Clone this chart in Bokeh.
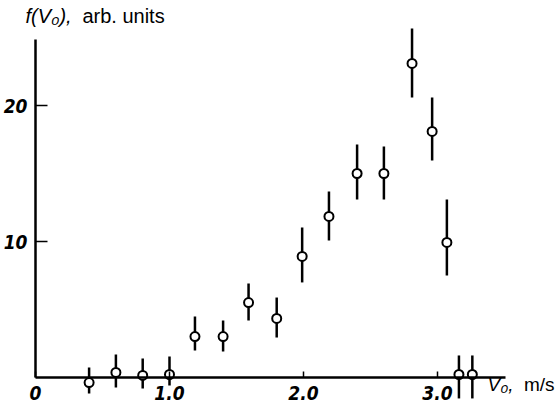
from bokeh.plotting import figure
from bokeh.models import Range1d, FixedTicker, Label, ColumnDataSource
from bokeh.embed import file_html
from bokeh.resources import INLINE

# ---- data ----
v0 = [0.40, 0.60, 0.80, 1.00, 1.19, 1.40, 1.59, 1.80, 1.99, 2.19, 2.40, 2.60, 2.81, 2.96, 3.07, 3.16, 3.26]
f_val = [-0.37, 0.37, 0.15, 0.22, 3.01, 3.01, 5.51, 4.34, 8.90, 11.84, 15.0, 15.0, 23.09, 18.09, 9.93, 0.22, 0.22]
f_hi = [0.74, 1.69, 1.40, 1.54, 4.49, 4.19, 6.91, 5.88, 11.03, 13.68, 17.13, 16.99, 25.66, 20.59, 13.09, 1.62, 1.62]
f_lo = [-1.18, -0.74, -0.81, -0.59, 1.99, 1.91, 4.19, 2.94, 6.99, 10.07, 13.09, 13.09, 20.59, 15.96, 7.50, -1.54, -1.54]

x_ticks = [0, 1, 2, 3]
x_tick_labels = ["0", "1.0", "2.0", "3.0"]
y_ticks = [10, 20]
y_tick_labels = ["10", "20"]
x_axis_end = 3.507
y_axis_end = 24.85

W, H = 558, 406
px_per_v = 134.0
px_per_f = 13.6
ox, oy = 35, 377  # origin within the canvas

p = figure(width=W, height=H, output_backend="svg", toolbar_location=None,
           x_range=Range1d(-ox / px_per_v, (W - ox) / px_per_v),
           y_range=Range1d(-(H - oy) / px_per_f, oy / px_per_f),
           min_border=0, outline_line_color=None)
p.grid.visible = False
p.background_fill_color = "white"
p.border_fill_color = "white"

tick_font = "'Liberation Sans Narrow', 'DejaVu Sans Condensed', sans-serif"

for ax in p.xaxis:
    ax.fixed_location = 0
    ax.bounds = (0, x_axis_end)
    ax.ticker = FixedTicker(ticks=x_ticks)
    ax.major_label_overrides = {t: s for t, s in zip(x_ticks, x_tick_labels)}
    ax.minor_tick_line_color = None
    ax.major_tick_in = 6
    ax.major_tick_out = 0
    ax.axis_line_width = 2.5
    ax.major_tick_line_width = 1.5
    ax.major_label_standoff = 8
    ax.major_label_text_font = tick_font
    ax.major_label_text_font_style = "bold italic"
    ax.major_label_text_font_size = "19px"
    ax.major_label_text_color = "black"

for ax in p.yaxis:
    ax.fixed_location = 0
    ax.bounds = (0, y_axis_end)
    ax.ticker = FixedTicker(ticks=y_ticks)
    ax.major_label_overrides = {t: s for t, s in zip(y_ticks, y_tick_labels)}
    ax.minor_tick_line_color = None
    ax.major_tick_in = 12
    ax.major_tick_out = 0
    ax.axis_line_width = 2.5
    ax.major_tick_line_width = 1.5
    ax.major_label_standoff = 8
    ax.major_label_text_font = tick_font
    ax.major_label_text_font_style = "bold italic"
    ax.major_label_text_font_size = "19px"
    ax.major_label_text_color = "black"

src = ColumnDataSource(dict(v=v0, f=f_val, lo=f_lo, hi=f_hi))
p.segment(x0="v", y0="lo", x1="v", y1="hi", source=src, line_color="black", line_width=2.5)
p.scatter(x="v", y="f", source=src, size=9, marker="circle", fill_color="white",
          line_color="black", line_width=2)

label_font = "'Liberation Sans', Arial, sans-serif"
p.add_layout(Label(x=-0.075, y=25.8, text="f(V\u2080),", text_font=label_font,
                   text_font_style="italic", text_font_size="20px", text_color="black"))
p.add_layout(Label(x=0.35, y=25.8, text="arb. units", text_font=label_font,
                   text_font_size="20px", text_color="black"))
p.add_layout(Label(x=3.373, y=-1.32, text="V\u2080,", text_font=label_font,
                   text_font_style="italic", text_font_size="19px", text_color="black"))
p.add_layout(Label(x=3.645, y=-1.32, text="m/s", text_font=label_font,
                   text_font_size="19px", text_color="black"))

open("out.html", "w").write(file_html(p, INLINE))
